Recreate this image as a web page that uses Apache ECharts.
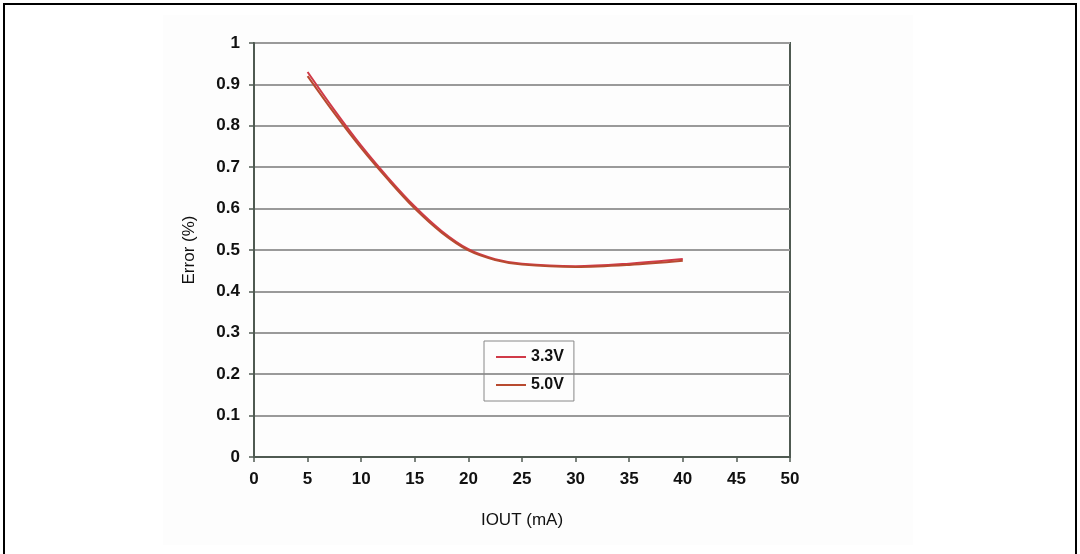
<!DOCTYPE html>
<html>
<head>
<meta charset="utf-8">
<script src="https://cdn.jsdelivr.net/npm/echarts@6/dist/echarts.min.js"></script>
<style>
  html, body { margin: 0; padding: 0; background: #fff; }
  #main { width: 1080px; height: 554px; }
</style>
</head>
<body>
<div id="main"></div>
<script>
// IOUT (mA) and error (%)
var iout = [5, 7.5, 10, 12.5, 15, 17.5, 20, 22.5, 25, 30, 35, 40];
var err33 = [0.930, 0.838, 0.752, 0.675, 0.605, 0.546, 0.502, 0.478, 0.467, 0.461, 0.467, 0.478];
var err50 = [0.920, 0.830, 0.746, 0.670, 0.600, 0.542, 0.499, 0.476, 0.465, 0.459, 0.464, 0.474];
var seriesNames = ['3.3V', '5.0V'];

function pairs(xs, ys) {
    return xs.map(function (x, i) { return [x, ys[i]]; });
}

var chart = echarts.init(document.getElementById('main'));
var font = '"Liberation Sans", Arial, sans-serif';

chart.setOption({
    animation: false,
    backgroundColor: '#fff',
    graphic: [
        // faint backdrop of the pasted chart image
        { type: 'rect', z: -10, shape: { x: 163, y: 15, width: 750, height: 530 }, style: { fill: '#fdfdfd' } },
        // page frame (left, top, right)
        { type: 'polyline', z: 10, shape: { points: [[4, 554], [4, 4], [1076, 4], [1076, 554]] }, style: { stroke: '#000', lineWidth: 2, fill: null } }
    ],
    grid: {
        left: 254, right: 290, top: 43, bottom: 97,
        show: true, borderColor: '#4f5a52', borderWidth: 2
    },
    legend: {
        data: seriesNames,
        orient: 'vertical',
        left: 484, top: 341,
        padding: [8, 10, 8, 12],
        itemGap: 12,
        itemWidth: 30, itemHeight: 2,
        icon: 'rect',
        borderColor: '#888', borderWidth: 1,
        textStyle: { fontFamily: font, fontWeight: 'bold', fontSize: 16, color: '#111' }
    },
    xAxis: {
        type: 'value',
        min: 0, max: 50, interval: 5,
        name: 'IOUT (mA)',
        nameLocation: 'middle',
        nameGap: 55,
        nameTextStyle: { fontFamily: font, fontSize: 17, color: '#111' },
        axisLine: { lineStyle: { color: '#4f5a52', width: 2 } },
        axisTick: { show: true, length: 5, lineStyle: { color: '#4f5a52', width: 1.5 } },
        axisLabel: { fontFamily: font, fontWeight: 'bold', fontSize: 17, color: '#111', margin: 14 },
        splitLine: { show: false }
    },
    yAxis: {
        type: 'value',
        min: 0, max: 1, interval: 0.1,
        name: 'Error (%)',
        nameLocation: 'middle',
        nameGap: 56,
        nameTextStyle: { fontFamily: font, fontSize: 17, color: '#111' },
        axisLine: { show: true, lineStyle: { color: '#4f5a52', width: 2 } },
        axisTick: { show: true, length: 5, lineStyle: { color: '#4f5a52', width: 1.5 } },
        axisLabel: { fontFamily: font, fontWeight: 'bold', fontSize: 17, color: '#111', margin: 14,
            formatter: function (v) { return String(Math.round(v * 10) / 10); } },
        splitLine: { show: true, lineStyle: { color: '#9a9a9a', width: 2 } }
    },
    series: [
        {
            name: seriesNames[0],
            type: 'line',
            smooth: 0.35,
            showSymbol: false,
            data: pairs(iout, err33),
            itemStyle: { color: '#d03a48' },
            lineStyle: { color: '#d03a48', width: 2 }
        },
        {
            name: seriesNames[1],
            type: 'line',
            smooth: 0.35,
            showSymbol: false,
            data: pairs(iout, err50),
            itemStyle: { color: '#b84a30' },
            lineStyle: { color: '#b84a30', width: 2 }
        }
    ]
});
</script>
</body>
</html>
